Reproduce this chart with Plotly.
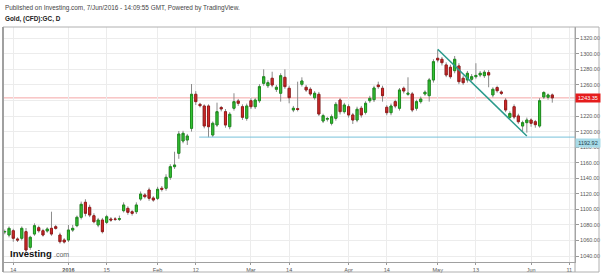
import plotly.graph_objects as go

# ---------------- data ----------------
bar_index = list(range(130))

opens = [1071.0, 1067.0, 1072.5, 1061.9, 1062.8, 1071.3, 1051.2, 1068.3, 1076.4, 1072.5,
         1072.2, 1075.6, 1077.7, 1067.0, 1060.6, 1060.6, 1073.4, 1079.0, 1089.8, 1109.1,
         1102.6, 1091.8, 1079.9, 1086.3, 1083.3, 1087.6, 1087.6, 1087.2, 1098.3, 1101.3,
         1097.0, 1097.0, 1113.3, 1118.5, 1124.9, 1114.6, 1114.2, 1127.1, 1127.1, 1141.2,
         1154.9, 1172.1, 1187.9, 1189.2, 1204.2, 1248.0, 1235.1, 1232.9, 1232.9, 1195.6,
         1208.5, 1231.0, 1225.6, 1206.3, 1230.0, 1239.4, 1232.0, 1217.1, 1239.7, 1232.0,
         1239.7, 1262.1, 1259.0, 1268.6, 1254.4, 1249.3, 1269.8, 1255.7, 1227.8, 1229.5,
         1260.8, 1257.0, 1254.4, 1243.6, 1248.0, 1213.6, 1216.0, 1210.7, 1217.1, 1240.6,
         1225.6, 1232.0, 1221.4, 1214.9, 1230.0, 1224.8, 1239.7, 1241.0, 1259.9, 1255.7,
         1231.3, 1224.3, 1238.5, 1230.0, 1255.7, 1248.0, 1248.4, 1230.0, 1238.5, 1248.4,
         1246.2, 1266.4, 1294.3, 1293.0, 1285.7, 1282.7, 1278.3, 1284.4, 1268.6, 1266.4,
         1267.3, 1270.6, 1272.8, 1271.9, 1275.8, 1247.1, 1256.7, 1250.9, 1240.3, 1218.4,
         1232.0, 1220.1, 1207.2, 1211.5, 1214.9, 1212.7, 1207.2, 1244.5, 1244.1, 1247.1]

highs = [1074, 1078, 1075, 1064, 1078, 1076, 1066, 1082, 1079, 1075,
         1077, 1097.0, 1080, 1070, 1063, 1079.9, 1080, 1092, 1110, 1113,
         1106, 1095, 1089, 1089, 1093, 1090, 1090, 1092, 1109, 1104,
         1099, 1109, 1123, 1121, 1128, 1117, 1129, 1130, 1145.1, 1158,
         1174.1, 1200.8, 1201, 1197, 1261.2, 1252, 1237, 1235, 1235, 1213,
         1237.2, 1233, 1229, 1225, 1249.3, 1242, 1235, 1236, 1243, 1243,
         1261, 1280.1, 1266, 1277.0, 1260, 1275, 1280.1, 1259, 1233, 1264.2,
         1269.8, 1260, 1257, 1252, 1251, 1223, 1219, 1222, 1238, 1243,
         1237, 1235, 1224, 1232, 1233, 1239, 1246, 1259, 1264.2, 1259,
         1234, 1236, 1241, 1256, 1258, 1269.8, 1251, 1241, 1245, 1253,
         1269, 1293, 1305.0, 1296, 1289, 1286, 1297.2, 1288, 1272, 1278,
         1274, 1287.9, 1278, 1279, 1279, 1257, 1259, 1253, 1243, 1226,
         1235, 1223, 1214, 1218, 1217, 1215, 1243, 1252, 1249, 1249]

lows = [1068, 1064, 1058.4, 1058, 1060, 1045, 1048, 1066, 1070, 1065,
        1070, 1066, 1074, 1056, 1056, 1058, 1071, 1077, 1087, 1091,
        1090, 1082, 1077, 1069, 1081, 1084, 1085, 1085, 1096, 1093,
        1092, 1094, 1111, 1114, 1111, 1109.8, 1112, 1123, 1124, 1138,
        1152, 1165, 1185, 1182.8, 1200, 1234.2, 1231, 1204.2, 1192.7, 1193,
        1206, 1226, 1205, 1203, 1227, 1233, 1215, 1214, 1229, 1229,
        1237, 1259, 1256, 1257, 1251, 1238.5, 1255, 1236.4, 1225, 1226,
        1258, 1251, 1246, 1241, 1220, 1211, 1213, 1208, 1214, 1222,
        1223, 1218, 1209.8, 1212, 1218, 1222, 1237, 1238, 1255, 1238.5,
        1221, 1221, 1230, 1227, 1249, 1246, 1225, 1227, 1236, 1246,
        1238.5, 1263, 1289, 1285, 1270, 1268, 1275, 1261, 1260, 1263,
        1265, 1268, 1270, 1269, 1257.0, 1244, 1250, 1247, 1225, 1216,
        1216, 1210, 1199.9, 1198.6, 1206.3, 1205, 1205, 1242, 1241, 1237.2]

closes = [1071.5, 1075.6, 1062.8, 1060.6, 1075.6, 1047.7, 1064.1, 1079.0, 1072.5, 1067.0,
          1074.7, 1068.3, 1075.6, 1058.4, 1058.0, 1073.4, 1075.6, 1089.8, 1106.5, 1094.9,
          1092.7, 1084.1, 1086.3, 1071.3, 1090.5, 1086.3, 1087.2, 1088.0, 1105.6, 1096.2,
          1094.9, 1105.6, 1119.7, 1116.3, 1114.2, 1112.0, 1125.8, 1125.8, 1141.2, 1154.9,
          1157.0, 1196.9, 1197.8, 1194.3, 1248.0, 1238.5, 1233.3, 1207.2, 1206.3, 1210.7,
          1225.6, 1229.1, 1208.5, 1222.3, 1238.5, 1236.4, 1218.4, 1232.9, 1232.0, 1240.6,
          1257.8, 1270.6, 1262.9, 1259.9, 1257.0, 1271.9, 1257.8, 1243.6, 1230.0, 1228.5,
          1265.1, 1253.5, 1248.4, 1249.3, 1222.6, 1220.5, 1216.8, 1219.2, 1235.1, 1225.6,
          1234.2, 1221.4, 1214.9, 1228.7, 1221.4, 1236.4, 1242.8, 1256.1, 1257.8, 1246.2,
          1224.3, 1232.9, 1232.9, 1253.5, 1252.2, 1249.3, 1227.8, 1238.5, 1241.9, 1250.6,
          1266.4, 1289.9, 1292.1, 1288.6, 1272.8, 1270.6, 1293.0, 1264.2, 1262.9, 1275.0,
          1270.6, 1272.2, 1275.0, 1276.3, 1272.8, 1254.4, 1252.6, 1249.3, 1227.8, 1223.3,
          1218.8, 1212.7, 1211.5, 1214.9, 1210.7, 1208.9, 1239.7, 1250.3, 1247.1, 1243.35]

tick_bars = [2, 15, 24, 36, 45, 58, 67, 81, 90, 102, 111, 124, 133]
tick_labels = ["14", "<b>2016</b>", "15", "Feb", "12", "Mar", "14", "Apr", "14",
               "May", "13", "Jun", "11"]
y_ticks = list(range(1040, 1321, 20))
# the 1240 label sits under the last-price box in the original, so it shows no text
y_tick_labels = ["" if v == 1240 else f"{v:.2f}" for v in y_ticks]

last_price = 1243.35
support_level = 1192.92
support_label_y = 1185.7
support_start_bar = 45.8
trend_start = (102.0, 1305.9)
trend_end = (123.0, 1194.3)

X_RANGE = [-0.42, 134.35]
Y_RANGE = [1032.3, 1334.5]

# ---------------- layout geometry ----------------
W, H = 602, 273
ML, MR, MT, MB = 3, 27, 27, 11
PW, PH = W - ML - MR, H - MT - MB


def px_x(px):
    return (px - ML) / PW


def px_y(py):
    return (H - MB - py) / PH


FONT = "Liberation Sans, Arial, sans-serif"

body_hi = [max(o, c) for o, c in zip(opens, closes)]
body_lo = [min(o, c) for o, c in zip(opens, closes)]

fig = go.Figure()

# wicks (gray)
fig.add_trace(go.Candlestick(
    x=bar_index, open=opens, high=highs, low=lows, close=closes,
    increasing=dict(line=dict(color="#8a8a8a", width=1), fillcolor="#8a8a8a"),
    decreasing=dict(line=dict(color="#8a8a8a", width=1), fillcolor="#8a8a8a"),
    whiskerwidth=0, hoverinfo="skip", showlegend=False))

# bodies
fig.add_trace(go.Candlestick(
    x=bar_index, open=opens, high=body_hi, low=body_lo, close=closes,
    increasing=dict(line=dict(color="#1f8f1f", width=1), fillcolor="#35c435"),
    decreasing=dict(line=dict(color="#9a1c1c", width=1), fillcolor="#d42a2a"),
    whiskerwidth=0, hoverinfo="skip", showlegend=False))

shapes = [
    dict(type="line", xref="paper", yref="y", x0=0, x1=1, y0=last_price, y1=last_price,
         line=dict(color="#f4a5a5", width=1), layer="below"),
    dict(type="line", xref="x", yref="y", x0=support_start_bar, x1=X_RANGE[1],
         y0=support_level, y1=support_level, line=dict(color="#78c2da", width=1)),
    dict(type="line", xref="x", yref="y", x0=trend_start[0], y0=trend_start[1],
         x1=trend_end[0], y1=trend_end[1], line=dict(color="#2a9a8c", width=1.5)),
    dict(type="rect", xref="paper", yref="paper", x0=0, x1=px_x(599), y0=px_y(272), y1=1,
         line=dict(color="#b0b0b0", width=1), fillcolor="rgba(0,0,0,0)"),
    dict(type="line", xref="paper", yref="paper", x0=0, x1=0, y0=px_y(272), y1=1,
         line=dict(color="#a0a0a0", width=2)),
    dict(type="line", xref="paper", yref="paper", x0=1, x1=1, y0=px_y(272), y1=1,
         line=dict(color="#a8a8a8", width=1)),
]

annotations = [
    dict(text="Published on Investing.com, 7/Jun/2016 - 14:09:55 GMT, Powered by TradingView.",
         xref="paper", yref="paper", x=px_x(3), y=px_y(8), xanchor="left", yanchor="middle",
         showarrow=False, font=dict(family=FONT, size=6.4, color="#444444")),
    dict(text="<b>Gold, (CFD):GC, D</b>",
         xref="paper", yref="paper", x=px_x(3), y=px_y(19), xanchor="left", yanchor="middle",
         showarrow=False, font=dict(family=FONT, size=6.4, color="#222222")),
    dict(text="<b>Investing</b>", xref="paper", yref="paper", x=px_x(8), y=px_y(253),
         xanchor="left", yanchor="middle", showarrow=False,
         font=dict(family=FONT, size=9.5, color="#111111")),
    dict(text=".com", xref="paper", yref="paper", x=px_x(51.5), y=px_y(254), xanchor="left",
         yanchor="middle", showarrow=False, font=dict(family=FONT, size=7, color="#666666")),
    dict(text="1243.35", xref="paper", yref="y", x=1, y=last_price, xanchor="left",
         yanchor="middle", showarrow=False, bgcolor="#e51c1c", width=22, height=6, borderpad=1,
         font=dict(family=FONT, size=5.5, color="#ffffff")),
    dict(text="1192.92", xref="paper", yref="y", x=1, y=support_label_y, xanchor="left",
         yanchor="middle", showarrow=False, bgcolor="#a8dbe8", width=22, height=6, borderpad=1,
         font=dict(family=FONT, size=5.5, color="#1d3b48")),
]

fig.update_layout(
    width=W, height=H, margin=dict(l=ML, r=MR, t=MT, b=MB, pad=0),
    paper_bgcolor="white", plot_bgcolor="white",
    shapes=shapes, annotations=annotations, showlegend=False,
    font=dict(family=FONT, size=6, color="#555555"),
    xaxis=dict(range=X_RANGE, tickvals=tick_bars, ticktext=tick_labels,
               ticks="outside", ticklen=2, tickcolor="#999999",
               tickfont=dict(family=FONT, size=5.5, color="#555555"),
               showgrid=True, gridcolor="#ececec", gridwidth=1,
               showline=True, linecolor="#a0a0a0", linewidth=1,
               zeroline=False, automargin=False, fixedrange=True,
               rangeslider=dict(visible=False)),
    yaxis=dict(range=Y_RANGE, side="right", tickvals=y_ticks, ticktext=y_tick_labels,
               ticks="outside", ticklen=3, tickcolor="#999999",
               tickfont=dict(family=FONT, size=5.5, color="#555555"),
               showgrid=True, gridcolor="#ececec", gridwidth=1,
               showline=True, linecolor="#a0a0a0", linewidth=1,
               zeroline=False, automargin=False, fixedrange=True),
)

fig.write_html("out.html")
